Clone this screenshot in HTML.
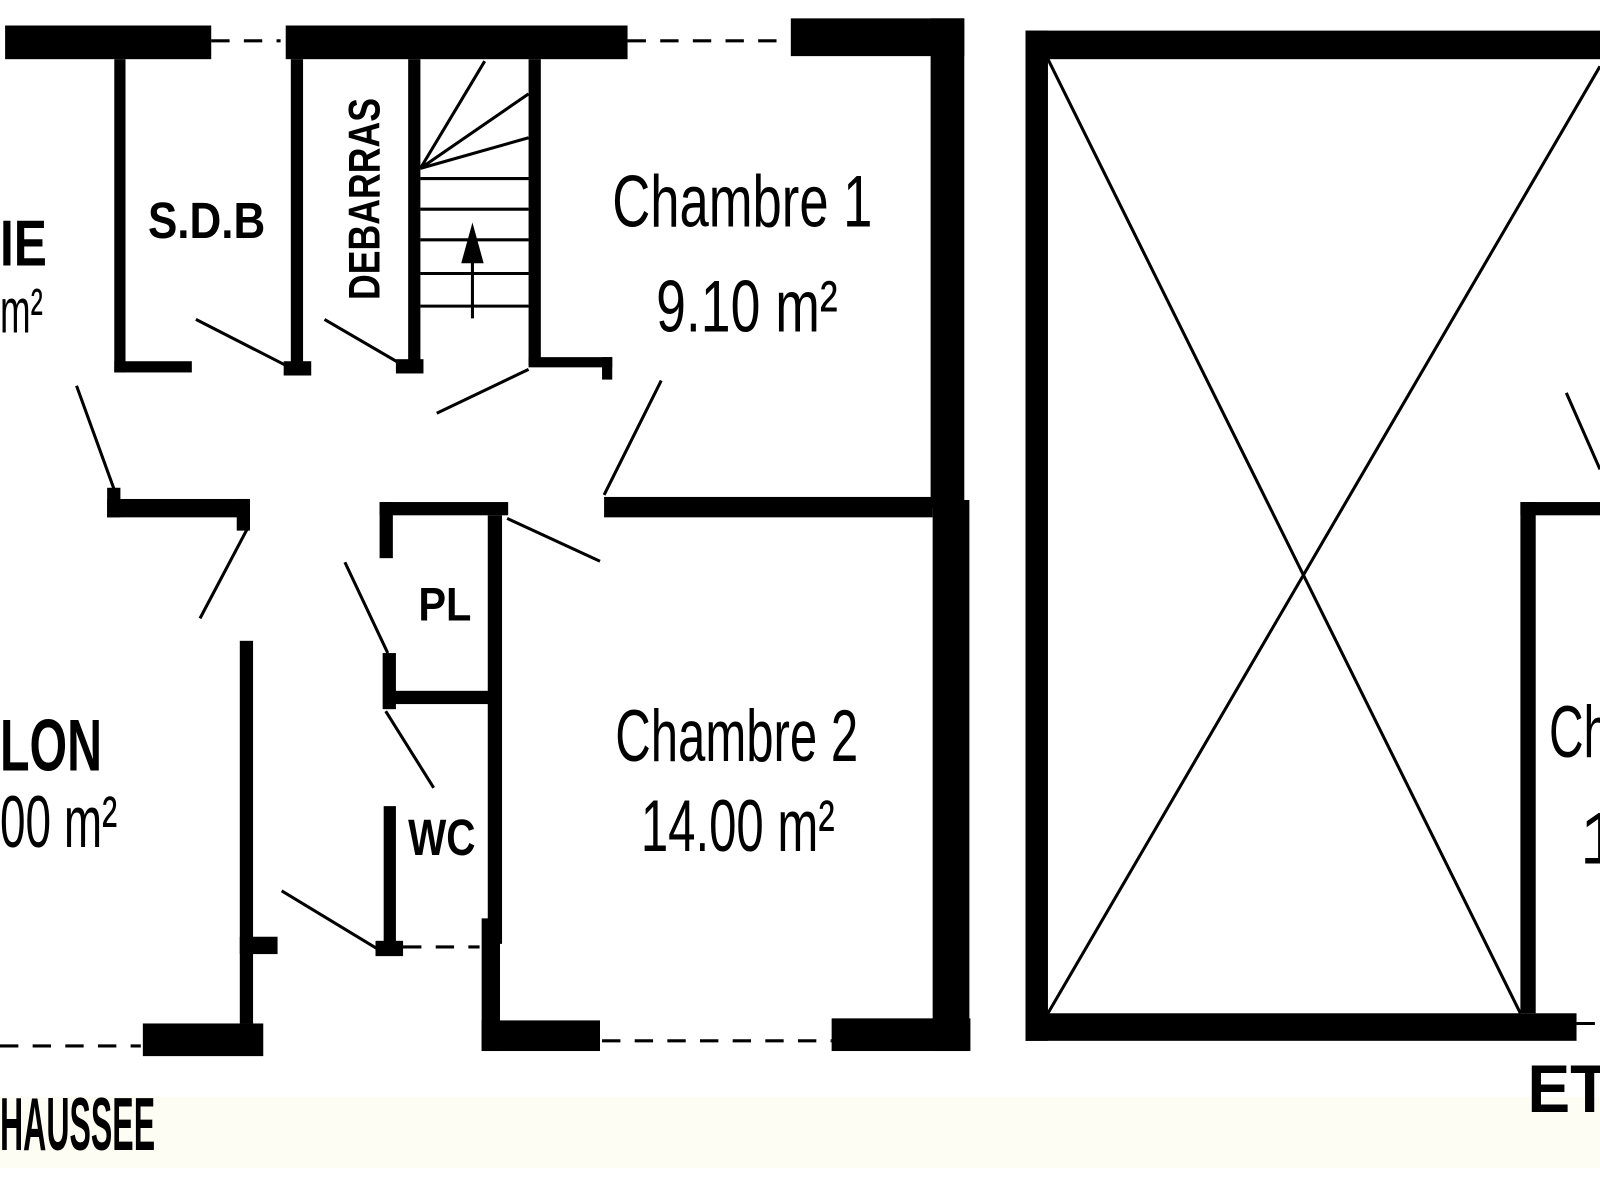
<!DOCTYPE html>
<html><head><meta charset="utf-8"><style>html,body{margin:0;padding:0;background:#fff}svg{display:block}</style></head><body>
<svg width="1600" height="1200" viewBox="0 0 1568 1176" preserveAspectRatio="none" xmlns="http://www.w3.org/2000/svg">
<rect x="0" y="1075" width="1568" height="70" fill="#fdfdf4"/>
<g fill="#000">
<rect x="5" y="25" width="202" height="33"/>
<rect x="280" y="25" width="335" height="33"/>
<rect x="775" y="18" width="170" height="37"/>
<rect x="912" y="18" width="33" height="480"/>
<rect x="914" y="490" width="36" height="540"/>
<rect x="815" y="998" width="136" height="32"/>
<rect x="592" y="487" width="322" height="20"/>
<rect x="112" y="58" width="11" height="307"/>
<rect x="112" y="354" width="76" height="11"/>
<rect x="285" y="58" width="12" height="302"/>
<rect x="278" y="354" width="27" height="14"/>
<rect x="400" y="58" width="12" height="302"/>
<rect x="388" y="352" width="27" height="14"/>
<rect x="518" y="58" width="12" height="300"/>
<rect x="518" y="350" width="82" height="10"/>
<rect x="590" y="350" width="10" height="22"/>
<rect x="105" y="478" width="13" height="29"/>
<rect x="105" y="489" width="140" height="18"/>
<rect x="232" y="489" width="13" height="31"/>
<rect x="372" y="492" width="126" height="13"/>
<rect x="372" y="492" width="13" height="55"/>
<rect x="478" y="505" width="14" height="420"/>
<rect x="472" y="900" width="18" height="130"/>
<rect x="472" y="1000" width="116" height="30"/>
<rect x="385" y="677" width="95" height="13"/>
<rect x="375" y="640" width="13" height="55"/>
<rect x="376" y="790" width="12" height="145"/>
<rect x="368" y="922" width="27" height="15"/>
<rect x="235" y="628" width="13" height="375"/>
<rect x="235" y="918" width="37" height="17"/>
<rect x="140" y="1003" width="118" height="32"/>
<rect x="1005" y="30" width="563" height="28"/>
<rect x="1005" y="30" width="22" height="990"/>
<rect x="1005" y="993" width="540" height="27"/>
<rect x="1490" y="492" width="15" height="501"/>
<rect x="1490" y="492" width="78" height="13"/>
</g>
<g stroke="#000" stroke-width="3" fill="none">
<path d="M207 40H275M615 40H775M0 1025H138M590 1020H815M395 928H470M1545 1003H1568" stroke-dasharray="18 14"/>
<path d="M192 313L280 358M318 313L390 355M428 405L518 362M648 373L592 485M75 378L112 480M243 517L196 606M338 551L380 640M378 697L425 772M497 508L588 550M276 873L370 930M1535 385L1568 460"/>
<path d="M412 175H518M412 205H518M412 235H518M412 268H518M412 300H518M412 165L475 60M412 165L518 92M412 165L518 135"/>
<path d="M463 312V240"/>
<path d="M1027 58L1490 993M1027 993L1568 65"/>
</g>
<path d="M463 218L452 258L474 258Z" fill="#000"/>
<g font-family="'Liberation Sans',sans-serif" fill="#000">
<text x="0" y="260" font-size="64" font-weight="bold" textLength="46" lengthAdjust="spacingAndGlyphs">IE</text>
<text x="0" y="326" font-size="62" textLength="42" lengthAdjust="spacingAndGlyphs">m²</text>
<text x="145" y="233" font-size="50" font-weight="bold" textLength="115" lengthAdjust="spacingAndGlyphs">S.D.B</text>
<text transform="translate(372,294) rotate(-90)" font-size="44" font-weight="bold" textLength="198" lengthAdjust="spacingAndGlyphs">DEBARRAS</text>
<text x="600" y="222" font-size="72" textLength="255" lengthAdjust="spacingAndGlyphs">Chambre 1</text>
<text x="643" y="325" font-size="72" textLength="178" lengthAdjust="spacingAndGlyphs">9.10 m²</text>
<text x="410" y="608" font-size="46" font-weight="bold" textLength="52" lengthAdjust="spacingAndGlyphs">PL</text>
<text x="0" y="755" font-size="72" font-weight="bold" textLength="100" lengthAdjust="spacingAndGlyphs">LON</text>
<text x="0" y="830" font-size="72" textLength="115" lengthAdjust="spacingAndGlyphs">00 m²</text>
<text x="603" y="746" font-size="72" textLength="238" lengthAdjust="spacingAndGlyphs">Chambre 2</text>
<text x="628" y="834" font-size="72" textLength="190" lengthAdjust="spacingAndGlyphs">14.00 m²</text>
<text x="400" y="838" font-size="50" font-weight="bold" textLength="66" lengthAdjust="spacingAndGlyphs">WC</text>
<text x="0" y="1127" font-size="74" font-weight="bold" textLength="152" lengthAdjust="spacingAndGlyphs">HAUSSEE</text>
<text x="1518" y="742" font-size="72" textLength="60" lengthAdjust="spacingAndGlyphs">Ch</text>
<text x="1548" y="846" font-size="72">1</text>
<text x="1497" y="1090" font-size="66" font-weight="bold" textLength="80" lengthAdjust="spacingAndGlyphs">ET</text>
</g>
</svg>
</body></html>
